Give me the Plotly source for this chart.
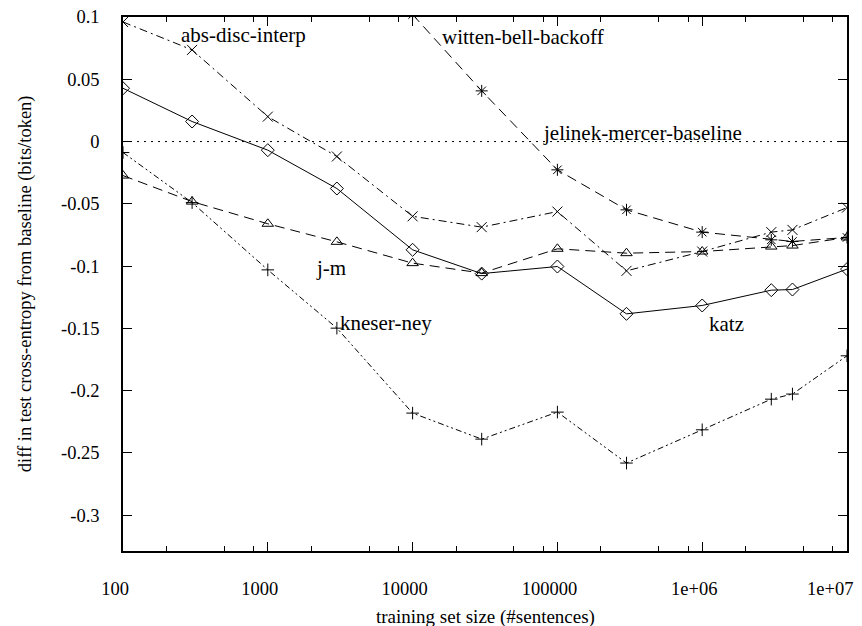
import math
import plotly.graph_objects as go

# ---- data ----
sizes = [100, 300, 1000, 3000, 10000, 30000, 100000, 300000, 1000000, 3000000, 4200000, 10000000]
katz = [0.0428, 0.0161, -0.0069, -0.0377, -0.0869, -0.1060, -0.1003, -0.1383, -0.1316, -0.1193, -0.1188, -0.1024]
abs_disc_interp = [0.0960, 0.0736, 0.0200, -0.0120, -0.0600, -0.0687, -0.0562, -0.1038, -0.0883, -0.0727, -0.0709, -0.0530]
wb_sizes = [10000, 30000, 100000, 300000, 1000000, 3000000, 4200000, 10000000]
witten_bell_backoff = [0.1020, 0.0407, -0.0227, -0.0548, -0.0727, -0.0789, -0.0802, -0.0770]
j_m = [-0.0273, -0.0482, -0.0660, -0.0805, -0.0976, -0.1056, -0.0861, -0.0896, -0.0883, -0.0843, -0.0835, -0.0770]
kneser_ney = [-0.0088, -0.0490, -0.1030, -0.1498, -0.2180, -0.2389, -0.2172, -0.2581, -0.2314, -0.2068, -0.2027, -0.1720]
baseline = 0.0

x_tickvals = [100, 1000, 10000, 100000, 1000000, 10000000]
x_ticktext = ["100", "1000", "10000", "100000", "1e+06", "1e+07"]
x_minorvals = [m * d for d in [100, 1000, 10000, 100000, 1000000] for m in (2, 5, 8)]
y_tickvals = [0.1, 0.05, 0, -0.05, -0.1, -0.15, -0.2, -0.25, -0.3]
y_ticktext = ["0.1", "0.05", "0", "-0.05", "-0.1", "-0.15", "-0.2", "-0.25", "-0.3"]

FONT = "Liberation Serif"
BLACK = "#000000"

fig = go.Figure()

def add(xs, ys, name, dash, symbol, msize=10):
    fig.add_trace(go.Scatter(
        x=xs, y=ys, name=name, mode="lines+markers",
        line=dict(color=BLACK, width=1, dash=dash),
        marker=dict(symbol=symbol, size=msize, color=BLACK,
                    line=dict(color=BLACK, width=1)),
        showlegend=False,
    ))

add(sizes, katz, "katz", "solid", "diamond-open", 10)
add(sizes, abs_disc_interp, "abs-disc-interp", "8px,4px,2px,4px", "x-thin-open", 10)
add(wb_sizes, witten_bell_backoff, "witten-bell-backoff", "10px,6px", "asterisk-open", 10)
add(sizes, j_m, "j-m", "10px,6px", "triangle-up-open", 10)
add(sizes, kneser_ney, "kneser-ney", "6px,3px,2px,3px,2px,3px", "cross-thin-open", 9)

fig.add_hline(y=baseline, line=dict(color=BLACK, width=1, dash="2px,5px"))

labels = [
    ("abs-disc-interp", 244, 0.0856),
    ("witten-bell-backoff", 15460, 0.0843),
    ("jelinek-mercer-baseline", 76700, 0.0067),
    ("j-m", 2085, -0.1016),
    ("kneser-ney", 3054, -0.1457),
    ("katz", 1.08e6, -0.1463),
]
for text, lx, ly in labels:
    fig.add_annotation(x=math.log10(lx), y=ly, text=text, showarrow=False,
                       xanchor="left", yanchor="middle",
                       font=dict(family=FONT, size=21, color=BLACK))

# the last x tick label sits left of its tick (it would not fit centred)
fig.add_annotation(x=math.log10(x_tickvals[-1]), xref="x", yref="paper", y=-0.071,
                   text=x_ticktext[-1], showarrow=False, xanchor="center",
                   yanchor="middle", xshift=-17,
                   font=dict(family=FONT, size=18.5, color=BLACK))
shown_ticktext = x_ticktext[:-1] + [""]

fig.add_annotation(xref="paper", yref="paper", x=-0.135, y=0.5,
                   text="diff in test cross-entropy from baseline (bits/token)",
                   textangle=-90, showarrow=False, xanchor="center", yanchor="middle",
                   font=dict(family=FONT, size=18.5, color=BLACK))
fig.add_annotation(xref="paper", yref="paper", x=0.5, y=-0.1236,
                   text="training set size (#sentences)", showarrow=False,
                   xanchor="center", yanchor="middle",
                   font=dict(family=FONT, size=19, color=BLACK))

fig.update_layout(
    width=862, height=626, autosize=False,
    margin=dict(l=123, r=15, t=17, b=75),
    paper_bgcolor="white", plot_bgcolor="white",
    font=dict(family=FONT, size=18.5, color=BLACK),
    xaxis=dict(type="log", range=[2, 7], showgrid=False, zeroline=False,
               showline=True, linecolor=BLACK, linewidth=1.5, mirror="allticks",
               ticks="inside", ticklen=9, tickwidth=1, tickcolor=BLACK,
               tickmode="array", tickvals=x_tickvals, ticktext=shown_ticktext,
               ticklabelstandoff=20, ticklabelshift=-8,
               minor=dict(ticks="inside", ticklen=5, tickwidth=1, tickcolor=BLACK,
                          tickmode="array", tickvals=x_minorvals, showgrid=False),
               automargin=False),
    yaxis=dict(range=[-0.3287, 0.1], showgrid=False, zeroline=False,
               showline=True, linecolor=BLACK, linewidth=1.5, mirror="allticks",
               ticks="inside", ticklen=9, tickwidth=1, tickcolor=BLACK,
               tickmode="array", tickvals=y_tickvals, ticktext=y_ticktext,
               ticklabelstandoff=18, automargin=False),
)

fig.write_html("out.html", config={"displayModeBar": False},
               post_script="document.body.style.margin='0';document.body.style.overflow='hidden';")
